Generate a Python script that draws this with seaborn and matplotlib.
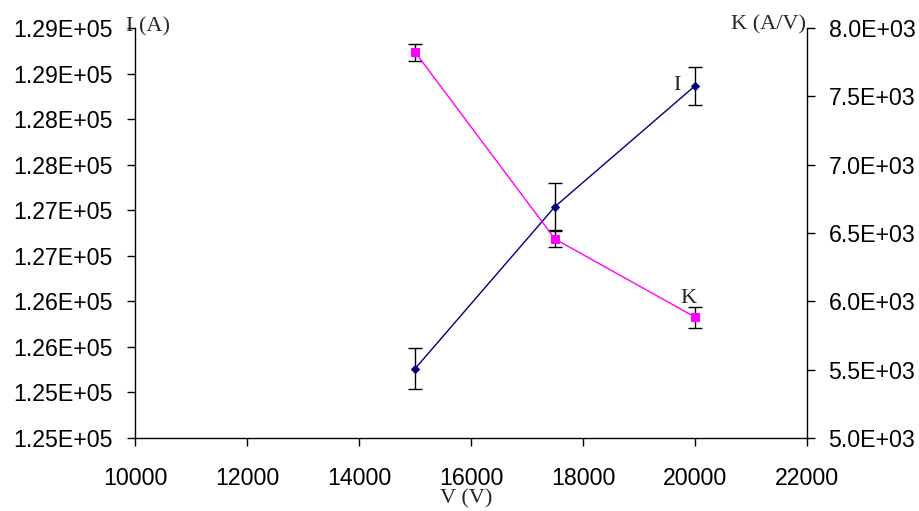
import matplotlib
matplotlib.use("Agg")
import matplotlib.pyplot as plt
import seaborn as sns
import numpy as np
import pandas as pd
from matplotlib.ticker import FuncFormatter, FixedLocator, MultipleLocator

voltage = [15000, 17500, 20000]
current = [125660, 127440, 128765]
current_err = [225, 258, 210]
k_values = [7824, 6456, 5885]
k_err = [62, 58, 77]

x_ticks = [10000, 12000, 14000, 16000, 18000, 20000, 22000]
i_ticks = [124900, 125400, 125900, 126400, 126900, 127400, 127900, 128400, 128900, 129400]

df = pd.DataFrame({"V": voltage, "I": current, "K": k_values})

sns.set_style("ticks")
plt.rcParams["font.family"] = ["Liberation Sans", "DejaVu Sans"]

fig = plt.figure(figsize=(9.2, 5.11), dpi=100)
ax = fig.add_axes([135 / 920, 1 - 438 / 511, 672 / 920, 410 / 511])
ax2 = ax.twinx()

# I series (left axis)
ax.errorbar(voltage, current, yerr=current_err, fmt="none", ecolor="black",
            elinewidth=1, capsize=5, capthick=1, zorder=2)
sns.lineplot(data=df, x="V", y="I", ax=ax, color="#000080", linewidth=1,
             marker="D", markersize=4.5, markeredgecolor="#000080", zorder=3)

# K series (right axis)
ax2.errorbar(voltage, k_values, yerr=k_err, fmt="none", ecolor="black",
             elinewidth=1, capsize=5, capthick=1, zorder=2)
sns.lineplot(data=df, x="V", y="K", ax=ax2, color="#FF00FF", linewidth=1,
             marker="s", markersize=5.5, markeredgecolor="#FF00FF", zorder=3)

ax.set_xlim(10000, 22000)
ax.set_xticks(x_ticks)
ax.set_ylim(i_ticks[0], i_ticks[-1])
ax.yaxis.set_major_locator(FixedLocator(i_ticks))
ax.yaxis.set_major_formatter(FuncFormatter(lambda v, p: f"{v:.2E}"))
ax2.set_ylim(5000, 8000)
ax2.yaxis.set_major_locator(MultipleLocator(500))
ax2.yaxis.set_major_formatter(FuncFormatter(lambda v, p: f"{v:.1E}"))

ax.set_xlabel("")
ax.set_ylabel("")
ax2.set_ylabel("")

for a in (ax, ax2):
    a.spines["top"].set_visible(False)
    for s in a.spines.values():
        s.set_color("black")
        s.set_linewidth(1)
ax.spines["right"].set_visible(False)
ax2.spines["left"].set_visible(False)
ax2.spines["bottom"].set_visible(False)

ax.tick_params(axis="x", direction="out", length=6, width=1, pad=15,
               labelsize=16.7, colors="black")
ax.tick_params(axis="y", direction="out", length=6, width=1, pad=10,
               labelsize=16.7, colors="black")
ax2.tick_params(axis="y", direction="out", length=6, width=1, pad=9.5,
                labelsize=16.7, colors="black")

serif = ["Liberation Serif", "DejaVu Serif"]
fig.text(126 / 920, 1 - 27 / 511, "I (A)", family=serif, fontsize=16,
         ha="left", va="center")
fig.text(806 / 920, 1 - 25 / 511, "K (A/V)", family=serif, fontsize=16,
         ha="right", va="center")
fig.text(466 / 920, 1 - 499 / 511, "V (V)", family=serif, fontsize=16,
         ha="center", va="center")
ax.annotate("I", (voltage[-1], current[-1]), xytext=(-13, 0),
            textcoords="offset points", family=serif, fontsize=16,
            ha="center", va="center")
ax2.annotate("K", (voltage[-1], k_values[-1]), xytext=(-5, 13),
             textcoords="offset points", family=serif, fontsize=16,
             ha="center", va="center")

plt.savefig("out.png", dpi=100)
plt.close()
